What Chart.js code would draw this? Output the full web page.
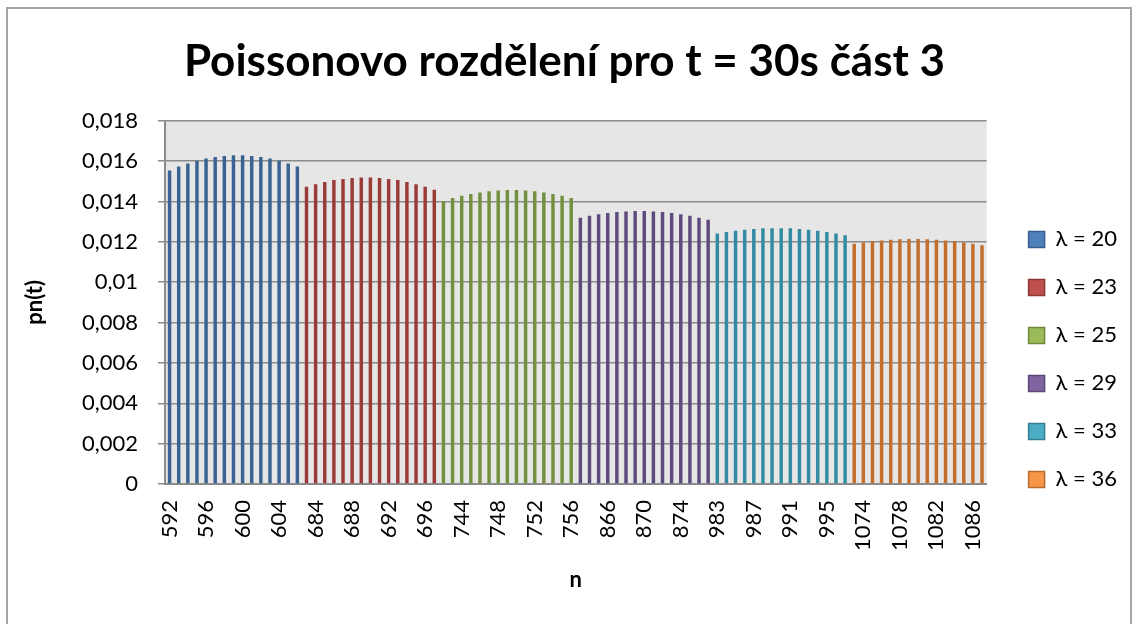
<!DOCTYPE html>
<html>
<head>
<meta charset="utf-8">
<script src="https://cdn.jsdelivr.net/npm/chart.js@4/dist/chart.umd.min.js"></script>
<style>
  html, body { margin: 0; padding: 0; background: #fff; }
  #wrap { width: 1137px; height: 624px; position: relative; }
</style>
</head>
<body>
<div id="wrap"><canvas id="chart" width="1137" height="624"></canvas></div>
<script>
// n values (categories) for each lambda
var n20 = [592, 593, 594, 595, 596, 597, 598, 599, 600, 601, 602, 603, 604, 605, 606];
var n23 = [683, 684, 685, 686, 687, 688, 689, 690, 691, 692, 693, 694, 695, 696, 697];
var n25 = [742, 743, 744, 745, 746, 747, 748, 749, 750, 751, 752, 753, 754, 755, 756];
var n29 = [863, 864, 865, 866, 867, 868, 869, 870, 871, 872, 873, 874, 875, 876, 877];
var n33 = [983, 984, 985, 986, 987, 988, 989, 990, 991, 992, 993, 994, 995, 996, 997];
var n36 = [1073, 1074, 1075, 1076, 1077, 1078, 1079, 1080, 1081, 1082, 1083, 1084, 1085, 1086, 1087];

// pn(t) values
var p20 = [0.01554, 0.01573, 0.01589, 0.01602, 0.01613, 0.01621, 0.01626, 0.01629, 0.01629, 0.01626, 0.01621, 0.01613, 0.01602, 0.01589, 0.01573];
var p23 = [0.01473, 0.01486, 0.01497, 0.01506, 0.01512, 0.01517, 0.01519, 0.01519, 0.01517, 0.01512, 0.01506, 0.01497, 0.01486, 0.01473, 0.01458];
var p25 = [0.01403, 0.01417, 0.01428, 0.01437, 0.01445, 0.01451, 0.01455, 0.01457, 0.01457, 0.01455, 0.01451, 0.01445, 0.01437, 0.01428, 0.01417];
var p29 = [0.01320, 0.01329, 0.01337, 0.01343, 0.01348, 0.01351, 0.01353, 0.01353, 0.01351, 0.01348, 0.01343, 0.01337, 0.01329, 0.01320, 0.01310];
var p33 = [0.01241, 0.01249, 0.01255, 0.01260, 0.01264, 0.01267, 0.01268, 0.01268, 0.01267, 0.01264, 0.01260, 0.01255, 0.01249, 0.01241, 0.01233];
var p36 = [0.01191, 0.01197, 0.01203, 0.01207, 0.01211, 0.01213, 0.01214, 0.01214, 0.01213, 0.01211, 0.01207, 0.01203, 0.01197, 0.01191, 0.01183];

var seriesNames = ["λ = 20", "λ = 23", "λ = 25", "λ = 29", "λ = 33", "λ = 36"];
var yTickLabels = ["0", "0,002", "0,004", "0,006", "0,008", "0,01", "0,012", "0,014", "0,016", "0,018"];

// legend swatch fill / border, and the darker look of the thin bars
var fills = ["#4F81BD", "#C0504D", "#9BBB59", "#8064A2", "#4BACC6", "#F79646"];
var borders = ["#385D8A", "#8C3836", "#71893F", "#5C4776", "#357D91", "#B66D31"];
var barColors = ["#3A6393", "#9B3B38", "#73903F", "#5F4A7F", "#338BA3", "#C26E2C"];

var groupsN = [n20, n23, n25, n29, n33, n36];
var groupsP = [p20, p23, p25, p29, p33, p36];

var labels = [].concat(n20, n23, n25, n29, n33, n36);
var start = 0;
var datasets = groupsP.map(function (vals, k) {
  var data = new Array(labels.length).fill(null);
  vals.forEach(function (v, j) { data[start + j] = v; });
  start += groupsN[k].length;
  return {
    label: seriesNames[k],
    data: data,
    backgroundColor: barColors[k],
    borderWidth: 0,
    barPercentage: 0.38,
    categoryPercentage: 1.0
  };
});

var FONT = "Lato, 'Open Sans', 'DejaVu Sans', sans-serif";
var grey = "#8c8c8c";

var decor = {
  id: "decor",
  beforeDraw: function (chart) {
    var c = chart.ctx, a = chart.chartArea;
    c.save();
    c.fillStyle = "#fff";
    c.fillRect(0, 0, chart.width, chart.height);
    c.fillStyle = "#e6e6e6";
    c.fillRect(a.left, a.top, a.right - a.left, a.bottom - a.top);
    c.restore();
  },
  afterLayout: function (chart) {
    var lg = chart.legend;
    if (!lg) return;
    var dx = 16, dy = 57;
    lg.left += dx; lg.right += dx;
    lg.top += dy; lg.bottom += dy;
  },
  afterDraw: function (chart) {
    var c = chart.ctx;
    c.save();
    c.strokeStyle = "#a6a6a6";
    c.lineWidth = 2;
    c.beginPath();
    c.moveTo(7, 624);
    c.lineTo(7, 8);
    c.lineTo(1131, 8);
    c.lineTo(1131, 624);
    c.stroke();
    c.restore();
  }
};

var config = {
  type: "bar",
  data: { labels: labels, datasets: datasets },
  plugins: [decor],
  options: {
    responsive: false,
    animation: false,
    layout: { padding: { left: 18, right: 26, top: 0, bottom: 27 } },
    plugins: {
      title: {
        display: true,
        text: "Poissonovo rozdělení pro t = 30s část 3",
        color: "#000",
        font: { family: FONT, size: 44, weight: "bold" },
        padding: { top: 35, bottom: 33 }
      },
      legend: {
        position: "right",
        fullSize: false,
        labels: {
          color: "#000",
          font: { family: FONT, size: 22 },
          boxWidth: 16,
          boxHeight: 16,
          padding: 26,
          generateLabels: function (chart) {
            return seriesNames.map(function (name, k) {
              return {
                text: name,
                fillStyle: fills[k],
                strokeStyle: borders[k],
                lineWidth: 1.5,
                fontColor: "#000",
                hidden: false,
                datasetIndex: k
              };
            });
          }
        }
      },
      tooltip: { enabled: false }
    },
    scales: {
      x: {
        stacked: true,
        afterFit: function (s) { s.height = 113; },
        grid: { display: false, drawTicks: false },
        border: { display: true, color: grey, width: 2 },
        ticks: {
          autoSkip: false,
          minRotation: 90,
          maxRotation: 90,
          padding: 16,
          color: "#000",
          font: { family: FONT, size: 22 },
          callback: function (v, i) { return i % 4 === 0 ? String(labels[i]) : ""; }
        },
        title: {
          display: true,
          text: "n",
          color: "#000",
          font: { family: FONT, size: 22, weight: "bold" }
        }
      },
      y: {
        stacked: true,
        min: 0,
        max: 0.018,
        afterFit: function (s) { s.width = 147; },
        grid: { color: grey, lineWidth: 1.5, tickLength: 7, tickColor: grey },
        border: { display: true, color: grey, width: 2 },
        ticks: {
          stepSize: 0.002,
          padding: 20,
          color: "#000",
          font: { family: FONT, size: 22 },
          callback: function (v, i) { return yTickLabels[i]; }
        },
        title: {
          display: true,
          text: "pn(t)",
          color: "#000",
          font: { family: FONT, size: 22, weight: "bold" }
        }
      }
    }
  }
};

var chart = new Chart(document.getElementById("chart"), config);
</script>
</body>
</html>
